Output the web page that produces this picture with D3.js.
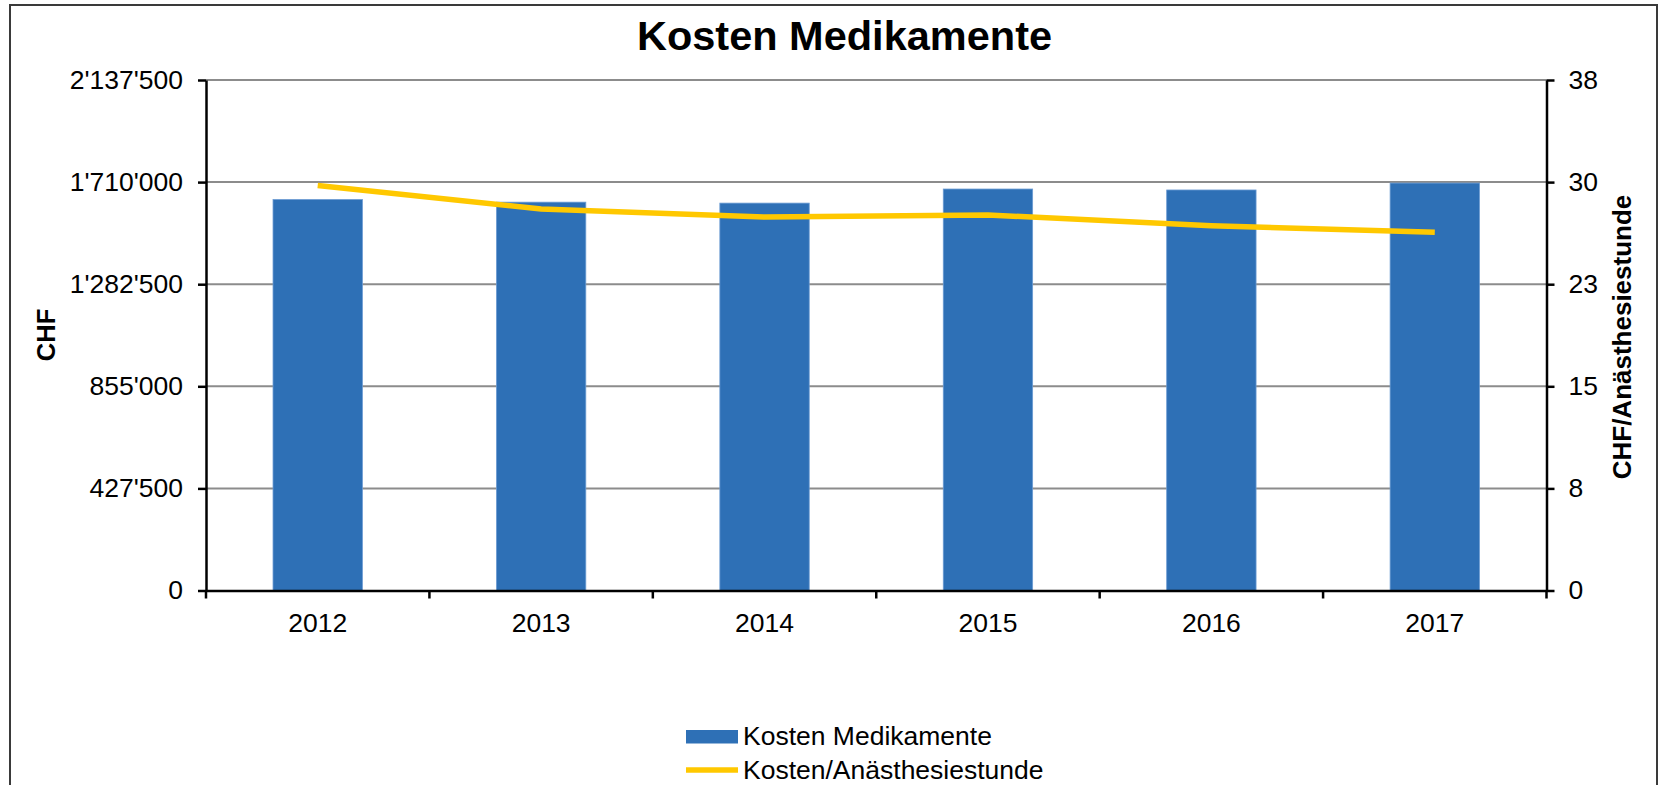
<!DOCTYPE html>
<html>
<head>
<meta charset="utf-8">
<script src="https://cdn.jsdelivr.net/npm/d3@7"></script>
<style>
  body { margin: 0; background: #fff; }
  text { font-family: "Liberation Sans", Arial, sans-serif; }
</style>
</head>
<body>
<div id="chart"></div>
<script>
// Data
const years = ["2012", "2013", "2014", "2015", "2016", "2017"];
const kosten = [1637000, 1626000, 1622000, 1681000, 1677000, 1706000];
const proStunde = [30.15, 28.4, 27.8, 27.95, 27.15, 26.67];
const leftTicks = [0, 427500, 855000, 1282500, 1710000, 2137500];
const rightTicks = [0, 7.6, 15.2, 22.8, 30.4, 38];
const seriesNames = ["Kosten Medikamente", "Kosten/Anästhesiestunde"];

const W = 1661, H = 785;
const margin = { top: 80, right: 1661 - 1546.5, bottom: 785 - 590.5, left: 206 },
      width = W - margin.left - margin.right,
      height = H - margin.top - margin.bottom;

const blue = "#2e70b6", gold = "#ffc800";

const chf = d3.formatLocale({ decimal: ".", thousands: "'", grouping: [3], currency: ["", ""] }).format(",.0f");

const root = d3.select("#chart").append("svg")
    .attr("width", W)
    .attr("height", H);

// outer frame
root.append("rect")
    .attr("x", 10).attr("y", 5)
    .attr("width", 1647).attr("height", 800)
    .attr("fill", "none")
    .attr("stroke", "#3a3a3a")
    .attr("stroke-width", 2);

// Title
root.append("text")
    .attr("x", 844.5).attr("y", 50)
    .attr("text-anchor", "middle")
    .style("font-size", "41.5px")
    .style("font-weight", "bold")
    .text("Kosten Medikamente");

const svg = root.append("g")
    .attr("transform", `translate(${margin.left},${margin.top})`);

// Scales
const x = d3.scaleBand()
    .domain(years)
    .range([0, width])
    .paddingInner(0.6)
    .paddingOuter(0.3);

const y = d3.scaleLinear()
    .domain([0, 2137500])
    .range([height, 0]);

const y2 = d3.scaleLinear()
    .domain([0, 38])
    .range([height, 0]);

// Gridlines
svg.append("g")
    .selectAll("line")
    .data(leftTicks.slice(1))
    .enter()
    .append("line")
    .attr("x1", 0).attr("x2", width)
    .attr("y1", d => y(d)).attr("y2", d => y(d))
    .attr("stroke", "#8c8c8c")
    .attr("stroke-width", 2);

// Bars
svg.selectAll("rect.bar")
    .data(years)
    .enter()
    .append("rect")
    .attr("class", "bar")
    .attr("x", d => x(d))
    .attr("y", (d, i) => y(kosten[i]))
    .attr("width", x.bandwidth())
    .attr("height", (d, i) => height - y(kosten[i]))
    .attr("fill", blue)
    .attr("stroke", "#6b9bd3")
    .attr("stroke-width", 0.8);

// Line
const line = d3.line()
    .x((d, i) => x(years[i]) + x.bandwidth() / 2)
    .y(d => y2(d));

svg.append("path")
    .datum(proStunde)
    .attr("d", line)
    .attr("fill", "none")
    .attr("stroke", gold)
    .attr("stroke-width", 5.5);

// Left axis
const yAxis = svg.append("g")
    .call(d3.axisLeft(y).tickValues(leftTicks).tickFormat(chf).tickSize(8).tickPadding(15).tickSizeOuter(0));

// Right axis
const yAxis2 = svg.append("g")
    .attr("transform", `translate(${width},0)`)
    .call(d3.axisRight(y2).tickValues(rightTicks).tickFormat(d3.format(".0f")).tickSize(8).tickPadding(14).tickSizeOuter(0));

// Bottom axis (labels at centers, ticks at band boundaries)
const xAxis = svg.append("g")
    .attr("transform", `translate(0,${height})`)
    .call(d3.axisBottom(x).tickSize(0).tickPadding(22.5).tickSizeOuter(0));

const bounds = years.map(d => x(d) - x.step() * x.paddingInner() / 2).concat([width]);
bounds[0] = 0;
xAxis.selectAll("line.bound")
    .data(bounds)
    .enter()
    .append("line")
    .attr("class", "bound")
    .attr("x1", d => d).attr("x2", d => d)
    .attr("y1", 0).attr("y2", 8)
    .attr("stroke", "#000")
    .attr("stroke-width", 2.5);

[yAxis, yAxis2, xAxis].forEach(g => {
    g.selectAll(".domain").attr("stroke", "#000").attr("stroke-width", 2.5);
    g.selectAll(".tick line").attr("stroke", "#000").attr("stroke-width", 2.5);
    g.selectAll("text")
        .attr("fill", "#000")
        .style("font-family", "'Liberation Sans', Arial, sans-serif")
        .style("font-size", "26.5px");
});

// Axis titles
root.append("text")
    .attr("transform", "translate(46,335) rotate(-90)")
    .attr("text-anchor", "middle")
    .attr("dominant-baseline", "central")
    .style("font-size", "25.5px")
    .style("font-weight", "bold")
    .text("CHF");

root.append("text")
    .attr("transform", "translate(1622,337) rotate(-90)")
    .attr("text-anchor", "middle")
    .attr("dominant-baseline", "central")
    .style("font-size", "26px")
    .style("font-weight", "bold")
    .text("CHF/Anästhesiestunde");

// Legend
const legend = root.append("g")
    .attr("transform", "translate(686,730)");

legend.append("rect")
    .attr("x", 0).attr("y", 0)
    .attr("width", 52).attr("height", 13.5)
    .attr("fill", blue);

legend.append("text")
    .attr("x", 57).attr("y", 14.5)
    .style("font-size", "26.5px")
    .text(seriesNames[0]);

legend.append("line")
    .attr("x1", 0).attr("x2", 52)
    .attr("y1", 40).attr("y2", 40)
    .attr("stroke", gold)
    .attr("stroke-width", 5.5);

legend.append("text")
    .attr("x", 57).attr("y", 49)
    .style("font-size", "26.5px")
    .text(seriesNames[1]);
</script>
</body>
</html>
